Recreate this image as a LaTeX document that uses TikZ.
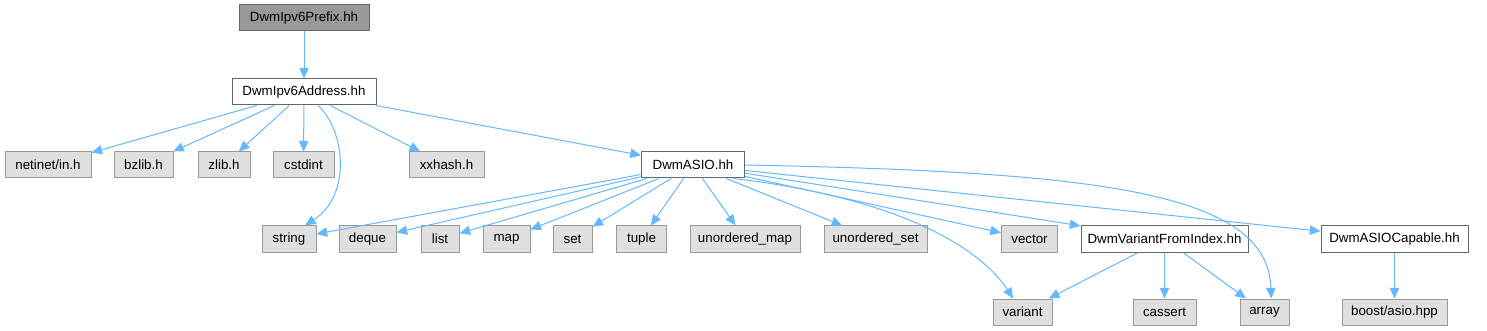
\documentclass[tikz,border=0pt]{standalone}
\usepackage{fontspec}
\setmainfont{Liberation Sans}
\usetikzlibrary{arrows.meta}
\definecolor{edgeblue}{HTML}{63B8FF}
\definecolor{hdrfill}{HTML}{E0E0E0}
\definecolor{hdrline}{HTML}{999999}
\definecolor{curfill}{HTML}{999999}
\definecolor{docline}{HTML}{666666}

\begin{document}
\begin{tikzpicture}[x=0.75pt, y=-0.75pt,
    box/.style={draw, line width=0.75pt, inner sep=0pt, minimum height=19.5pt,
                font=\fontsize{10}{12}\selectfont},
    hdr/.style={box, draw=hdrline, fill=hdrfill},
    doc/.style={box, draw=docline, fill=white},
    cur/.style={box, draw=docline, fill=curfill},
    dep/.style={draw=edgeblue, line width=0.75pt,
                -{Triangle[length=8pt, width=7pt]}}]
  \useasboundingbox (0,0) rectangle (1487,331);

  % top two levels
  \node[cur, minimum width=97.5pt] (prefix) at (304,18) {DwmIpv6Prefix.hh};
  \node[doc, minimum width=108pt] (addr) at (304,92) {DwmIpv6Address.hh};

  % headers of DwmIpv6Address.hh
  \node[hdr, minimum width=64.5pt] (netinet) at (48,165) {netinet/in.h};
  \node[hdr, minimum width=44.25pt] (bzlib) at (143.5,165) {bzlib.h};
  \node[hdr, minimum width=39pt] (zlib) at (224,165) {zlib.h};
  \node[hdr, minimum width=45.75pt] (cstdint) at (303.5,165) {cstdint};
  \node[hdr, minimum width=56.25pt] (xxhash) at (446.5,165) {xxhash.h};
  \node[doc, minimum width=77.25pt] (asio) at (693,165) {DwmASIO.hh};

  % headers of DwmASIO.hh
  \node[hdr, minimum width=40.5pt] (string) at (289,239) {string};
  \node[hdr, minimum width=42.75pt] (deque) at (367.5,239) {deque};
  \node[hdr, minimum width=28.5pt] (list) at (440,239) {list};
  \node[hdr, minimum width=35.25pt] (map) at (506.5,239) {map};
  \node[hdr, minimum width=29.25pt] (set) at (572.5,239) {set};
  \node[hdr, minimum width=37.5pt] (tuple) at (641.5,239) {tuple};
  \node[hdr, minimum width=82.5pt] (umap) at (745,239) {unordered\_map};
  \node[hdr, minimum width=77.25pt] (uset) at (875.5,239) {unordered\_set};
  \node[hdr, minimum width=42pt] (vector) at (1029.5,239) {vector};
  \node[doc, minimum width=125.25pt] (vfi) at (1164.5,239) {DwmVariantFromIndex.hh};
  \node[doc, minimum width=110.25pt] (capable) at (1394.5,239) {DwmASIOCapable.hh};

  % bottom row
  \node[hdr, minimum width=44.25pt] (variant) at (1022.5,312) {variant};
  \node[hdr, minimum width=47.25pt] (cassert) at (1164.5,312) {cassert};
  \node[hdr, minimum width=36.75pt] (array) at (1264.5,312) {array};
  \node[hdr, minimum width=78.75pt] (boost) at (1394.5,312) {boost/asio.hpp};

  % include edges
  \draw[dep] (prefix) -- (addr);
  \foreach \t in {netinet, bzlib, zlib, cstdint, xxhash, asio}
    \draw[dep] (addr) -- (\t);
  \draw[dep] ([xshift=10.5pt]addr.south) .. controls (345,130) and (352,195) .. ([xshift=12pt]string.north);

  \foreach \t in {string, deque, list, map, set, tuple, umap, uset, vector, vfi, capable}
    \draw[dep] (asio) -- (\t);
  \draw[dep] ([xshift=30pt]asio.south) .. controls (880,195) and (975,240) .. ([xshift=-7pt]variant.north);
  \draw[dep] (asio.east) .. controls (1100,172) and (1268,192) .. ([xshift=5pt]array.north);

  \foreach \t in {variant, cassert, array}
    \draw[dep] (vfi) -- (\t);
  \draw[dep] (capable) -- (boost);
\end{tikzpicture}
\end{document}
